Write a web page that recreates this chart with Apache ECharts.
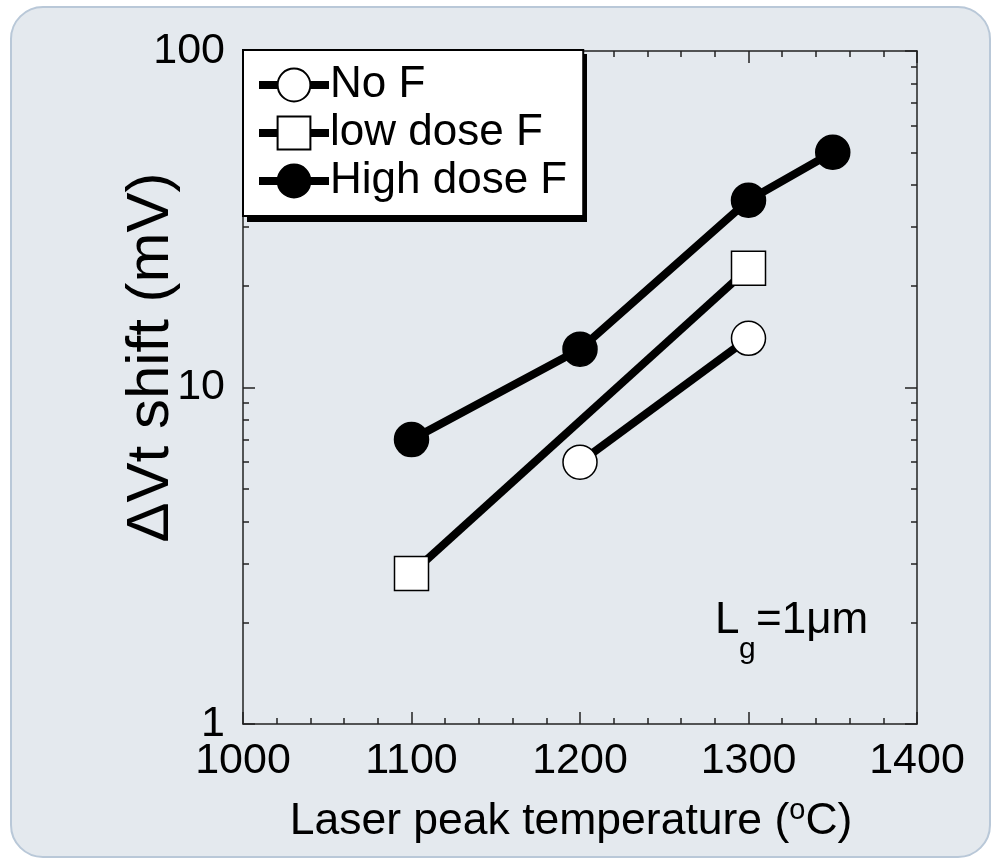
<!DOCTYPE html>
<html>
<head>
<meta charset="utf-8">
<script src="https://cdn.jsdelivr.net/npm/echarts@6/dist/echarts.min.js"></script>
<style>
html,body{margin:0;padding:0;background:#fff;}
#chart{width:997px;height:859px;}
</style>
</head>
<body>
<div id="chart"></div>
<script>
// ---- data ----
const seriesNames = ['No F', 'low dose F', 'High dose F'];
const noF_T = [1200, 1300];
const noF_V = [6.0, 14.0];
const lowF_T = [1100, 1300];
const lowF_V = [2.8, 22.6];
const highF_T = [1100, 1200, 1300, 1350];
const highF_V = [7.0, 13.0, 36.0, 50.0];
const xTicks = [1000, 1100, 1200, 1300, 1400];
const yMajorTicks = [1, 10, 100];
const yMinorTicks = [2, 3, 4, 5, 6, 7, 8, 9, 20, 30, 40, 50, 60, 70, 80, 90];

const FONT = 'Liberation Sans, Arial, sans-serif';
const pairs = (xs, ys) => xs.map((x, i) => [x, ys[i]]);

const chart = echarts.init(document.getElementById('chart'));

const axisLineStyle = { color: '#222', width: 1.5 };

function yAxisDef(position, major, showLabel) {
  return {
    type: 'log', logBase: 10, min: yMajorTicks[0], max: yMajorTicks[yMajorTicks.length - 1],
    position: position,
    axisLine: { show: major, lineStyle: axisLineStyle },
    axisTick: major
      ? { show: true, inside: true, length: 12, lineStyle: axisLineStyle, customValues: yMajorTicks }
      : { show: true, inside: true, length: 6, lineStyle: axisLineStyle, customValues: yMinorTicks },
    axisLabel: showLabel
      ? { show: true, margin: 18, fontSize: 43, color: '#000', fontFamily: FONT, customValues: yMajorTicks }
      : { show: false },
    splitLine: { show: false },
    name: showLabel ? 'ΔVt shift (mV)' : '',
    nameLocation: 'middle',
    nameGap: 62,
    nameMoveOverlap: false,
    nameTextStyle: { fontSize: 60, color: '#000', fontFamily: FONT, padding: [0, 0, 0, 60] }
  };
}

function xAxisDef(position, showLabel) {
  return {
    type: 'value', min: xTicks[0], max: xTicks[xTicks.length - 1], interval: 100,
    position: position,
    axisLine: { show: true, onZero: false, lineStyle: axisLineStyle },
    axisTick: { show: true, inside: true, length: 12, lineStyle: axisLineStyle },
    minorTick: { show: true, splitNumber: 5, length: 6, lineStyle: axisLineStyle },
    axisLabel: showLabel
      ? { show: true, margin: 16, fontSize: 43, color: '#000', fontFamily: FONT, formatter: v => String(v) }
      : { show: false },
    splitLine: { show: false },
    minorSplitLine: { show: false },
    name: showLabel ? '{n|Laser peak temperature (}{s|o}{n|C)}' : '',
    nameLocation: 'middle',
    nameGap: 72,
    nameMoveOverlap: false,
    nameTextStyle: {
      padding: [0, 18, 0, 0],
      rich: {
        n: { fontSize: 44.5, color: '#000', fontFamily: FONT },
        s: { fontSize: 29, color: '#000', fontFamily: FONT, padding: [0, 0, 22, 0] }
      }
    }
  };
}

function lineSeries(name, xs, ys, symbol, fill) {
  return {
    name: name,
    type: 'line',
    xAxisIndex: 0, yAxisIndex: 0,
    data: pairs(xs, ys),
    symbol: symbol,
    symbolSize: 34,
    lineStyle: { color: '#000', width: 8 },
    itemStyle: { color: fill, borderColor: '#000', borderWidth: 1.5 },
    emphasis: { disabled: true },
    animation: false,
    z: 3
  };
}

const option = {
  animation: false,
  graphic: [
    {
      type: 'rect', z: -10, silent: true,
      shape: { x: 11, y: 7, width: 979, height: 850, r: 32 },
      style: { fill: '#e4e9ee', stroke: '#b9c8d8', lineWidth: 2 }
    },
    {
      type: 'rect', z: 15, silent: true,
      shape: { x: 247, y: 54, width: 340, height: 168 },
      style: { fill: '#000' }
    },
    { type: 'text', z: 10, left: 715, top: 599, style: { text: 'L', fontSize: 44, fill: '#000', fontFamily: FONT } },
    { type: 'text', z: 10, left: 739, top: 635, style: { text: 'g', fontSize: 30, fill: '#000', fontFamily: FONT } },
    { type: 'text', z: 10, left: 756, top: 599, style: { text: '=1μm', fontSize: 44, fill: '#000', fontFamily: FONT } }
  ],
  grid: { left: 243, right: 80, top: 51, bottom: 135, containLabel: false },
  legend: {
    orient: 'vertical',
    left: 243, top: 50,
    width: 340,
    data: seriesNames,
    itemWidth: 70, itemHeight: 41, itemGap: 4,
    padding: [13, 16, 13, 12],
    backgroundColor: '#fff',
    borderColor: '#000', borderWidth: 2,
    textStyle: { fontSize: 44, color: '#000', fontFamily: FONT, padding: [0, 0, 0, -4] },
    lineStyle: { width: 8 },
    selectedMode: false,
    z: 20
  },
  xAxis: [xAxisDef('bottom', true), xAxisDef('top', false)],
  yAxis: [yAxisDef('left', true, true), yAxisDef('left', false, false), yAxisDef('right', true, false), yAxisDef('right', false, false)],
  series: [
    lineSeries(seriesNames[0], noF_T, noF_V, 'circle', '#fff'),
    lineSeries(seriesNames[1], lowF_T, lowF_V, 'rect', '#fff'),
    lineSeries(seriesNames[2], highF_T, highF_V, 'circle', '#000')
  ]
};
chart.setOption(option);
</script>
</body>
</html>
